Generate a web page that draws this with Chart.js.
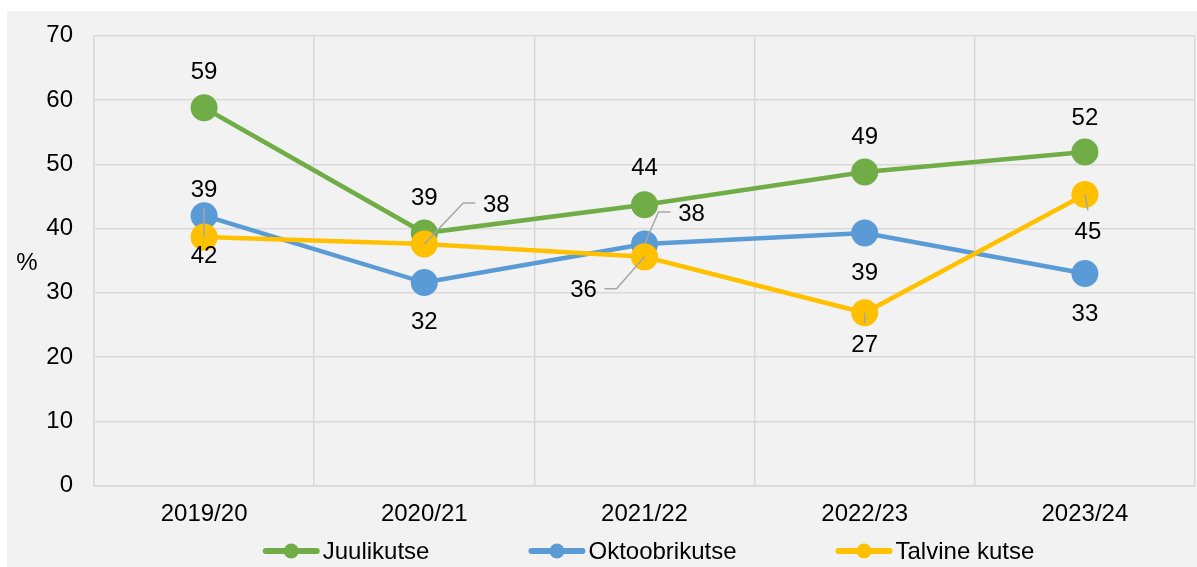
<!DOCTYPE html>
<html>
<head>
<meta charset="utf-8">
<script src="https://cdn.jsdelivr.net/npm/chart.js@4"></script>
<style>
    body { margin: 0; background: #ffffff; }
    #wrap { position: absolute; left: 7px; top: 11px; width: 1190px; height: 556px; background: #f2f2f2; }
</style>
</head>
<body>
<div id="wrap"><canvas id="lineChart"></canvas></div>
<script>
// Data
const categories = ['2019/20', '2020/21', '2021/22', '2022/23', '2023/24'];
const seriesNames = ['Juulikutse', 'Oktoobrikutse', 'Talvine kutse'];
const juulikutse = [58.8, 39.3, 43.7, 48.8, 51.9];
const oktoobrikutse = [42.0, 31.6, 37.6, 39.3, 33.0];
const talvineKutse = [38.7, 37.6, 35.6, 26.9, 45.3];
const yMin = 0, yMax = 70, yStep = 10;
const yAxisTitle = '%';

const colors = ['#70ad47', '#5b9bd5', '#ffc000'];
const FONT = "'Liberation Sans', Arial, sans-serif";

// label placement [dx, dy, leader] per point (pixels from the marker)
const labelPlacement = [
    [[0, -37, false], [0, -37, false], [0, -38, false], [0, -37, false], [0, -36, false]],
    [[0, 39, false], [0, 38, false], [47, -32, true], [0, 38, false], [0, 39, false]],
    [[0, -49, true], [72, -41, true], [-61, 32, true], [0, 31, true], [3, 36, true]]
];

const pointLabels = {
    id: 'pointLabels',
    afterDatasetsDraw(chart) {
        const ctx = chart.ctx;
        ctx.save();
        ctx.font = '24px ' + FONT;
        ctx.textAlign = 'center';
        ctx.textBaseline = 'middle';
        chart.data.datasets.forEach((ds, i) => {
            const meta = chart.getDatasetMeta(i);
            meta.data.forEach((pt, j) => {
                const [dx, dy, leader] = labelPlacement[i][j];
                const lx = pt.x + dx, ly = pt.y + dy;
                if (leader) {
                    ctx.strokeStyle = '#a6a6a6';
                    ctx.lineWidth = 1.5;
                    ctx.beginPath();
                    if (Math.abs(dx) > 20) {
                        const s = Math.sign(dx);
                        const x0 = lx - s * 21;
                        ctx.moveTo(x0, ly);
                        ctx.lineTo(x0 - s * 12, ly);
                        ctx.lineTo(pt.x, pt.y);
                    } else {
                        const s = Math.sign(dy);
                        ctx.moveTo(pt.x, pt.y);
                        ctx.lineTo(lx, ly - s * 20);
                    }
                    ctx.stroke();
                }
                ctx.fillStyle = '#000000';
                ctx.fillText(String(Math.round(ds.data[j])), lx, ly + 2);
            });
        });
        ctx.restore();
    }
};

// horizontal "%" title and line+marker legend
const extras = {
    id: 'extras',
    afterDraw(chart) {
        const ctx = chart.ctx;
        const area = chart.chartArea;
        ctx.save();
        ctx.font = '24px ' + FONT;
        ctx.fillStyle = '#000000';
        ctx.textBaseline = 'middle';
        ctx.textAlign = 'center';
        ctx.fillText(yAxisTitle, 20, (area.top + area.bottom) / 2 + 3);

        const markW = 57, textGap = 3, itemGap = 99, y = 540;
        const items = chart.data.datasets.map(ds => ({ ds, w: markW + textGap + ctx.measureText(ds.label).width }));
        const total = items.reduce((a, it) => a + it.w, 0) + itemGap * (items.length - 1);
        let x = (area.left + area.right) / 2 + 4 - total / 2;
        ctx.textAlign = 'left';
        items.forEach(it => {
            ctx.strokeStyle = it.ds.borderColor;
            ctx.lineWidth = 6;
            ctx.lineCap = 'round';
            ctx.beginPath();
            ctx.moveTo(x + 3, y);
            ctx.lineTo(x + markW - 3, y);
            ctx.stroke();
            ctx.fillStyle = it.ds.borderColor;
            ctx.beginPath();
            ctx.arc(x + markW / 2, y, 7.5, 0, Math.PI * 2);
            ctx.fill();
            ctx.fillStyle = '#000000';
            ctx.fillText(it.ds.label, x + markW + textGap, y + 1);
            x += it.w + itemGap;
        });
        ctx.restore();
    }
};

document.addEventListener('DOMContentLoaded', () => {
    const series = [juulikutse, oktoobrikutse, talvineKutse];
    const ctx = document.getElementById('lineChart').getContext('2d');
    new Chart(ctx, {
        type: 'line',
        data: {
            labels: categories,
            datasets: series.map((vals, i) => ({
                label: seriesNames[i],
                data: vals,
                borderColor: colors[i],
                backgroundColor: colors[i],
                borderWidth: 4.5,
                pointRadius: 13.5,
                pointHoverRadius: 13.5,
                pointBorderWidth: 0,
                tension: 0,
                order: 3 - i
            }))
        },
        options: {
            responsive: true,
            maintainAspectRatio: false,
            animation: false,
            layout: { autoPadding: false, padding: { top: 24.7, right: 2, left: 0, bottom: 0 } },
            plugins: { legend: { display: false }, tooltip: { enabled: false } },
            scales: {
                x: {
                    offset: true,
                    grid: { offset: true, color: '#d9d9d9', lineWidth: 1.5, drawTicks: false },
                    border: { color: '#d9d9d9', width: 1.5 },
                    ticks: { color: '#000000', font: { family: FONT, size: 24 }, padding: 14, maxRotation: 0 },
                    afterFit: s => { s.height = 81.3; s.paddingLeft = 0; s.paddingRight = 0; }
                },
                y: {
                    min: yMin,
                    max: yMax,
                    grid: { color: '#d9d9d9', lineWidth: 1.5, drawTicks: false },
                    border: { color: '#d9d9d9', width: 1.5 },
                    ticks: { stepSize: yStep, color: '#000000', font: { family: FONT, size: 24 }, padding: 21 },
                    afterFit: s => { s.width = 87; s.paddingTop = 0; s.paddingBottom = 0; }
                }
            }
        },
        plugins: [pointLabels, extras]
    });
});
</script>
</body>
</html>
